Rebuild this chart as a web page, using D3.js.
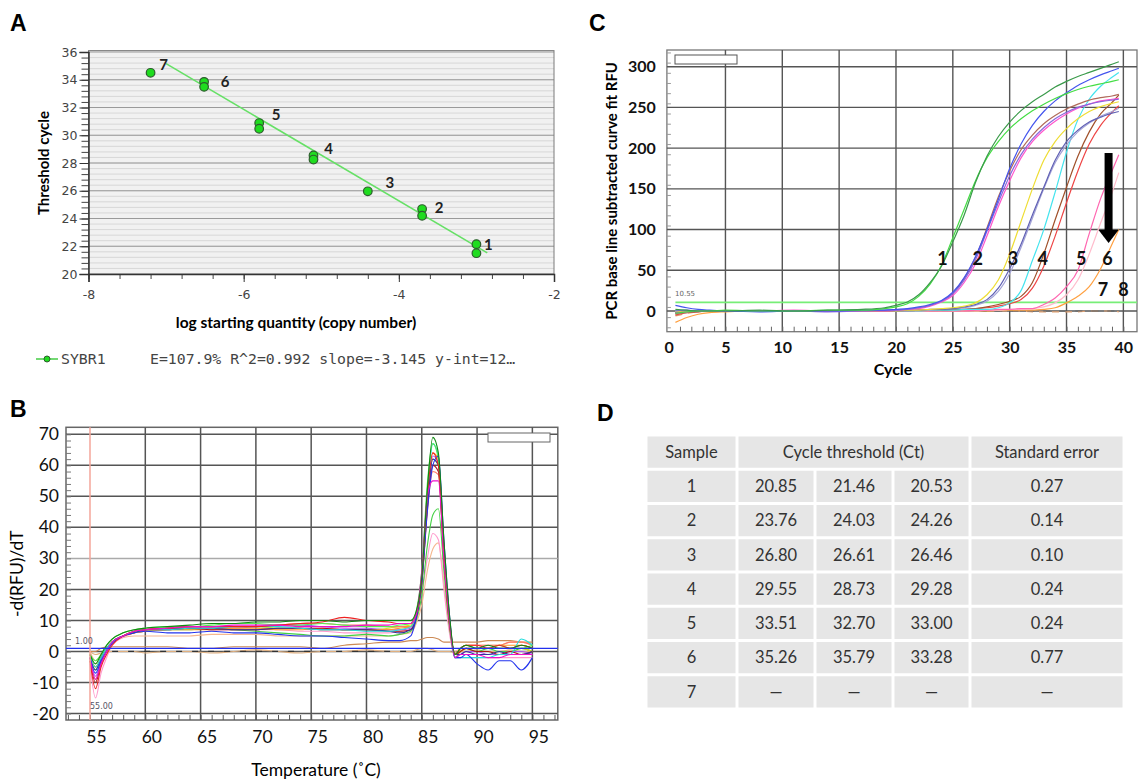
<!DOCTYPE html>
<html>
<head>
<meta charset="utf-8">
<script src="https://cdn.jsdelivr.net/npm/d3@7"></script>
<style>
body{margin:0;background:#fff}
svg{display:block}
</style>
</head>
<body>
<div id="fig"></div>
<script>
// ---------- A : standard curve ----------
var stdLog = [-3.0,-3.0,-3.7,-3.7,-4.4,-5.1,-5.1,-5.8,-5.8,-6.51,-6.51,-7.2];
var stdCt  = [22.15,21.5,24.68,24.2,25.96,28.54,28.25,30.88,30.47,33.85,33.49,34.5];
var stdSample = ["1","1","2","2","3","4","4","5","5","6","6","7"];
var fitLog = [-7.0,-2.86];
var fitCt  = [35.16,21.52];
var aXTicks = [-8,-6,-4,-2];
var aYTicks = [20,22,24,26,28,30,32,34,36];
var aLegend = "E=107.9% R^2=0.992 slope=-3.145 y-int=12\u2026";

// ---------- B : melt curves ----------
var meltT = [55,55.5,56,56.5,57,58,59,60,62,64,66,68,70,72,74,76,78,80,82,83,84,84.5,85,85.5,86,86.5,87,87.5,88,88.5,89,90,91,92,93,94,95];
var meltDkGreen = [-1,-4,-1,2,4,6,7,7.5,8,8.5,9,9,9.5,9.5,10,10,9.5,10,10,10,10,13,24,52,69,64,36,12,-1,1,2,1,2,1,1,2,1];
var meltGreen   = [-2,-6,-2,1,3,5,6,6.5,7,7,7.5,7,6.5,6,5.5,5,5,5.5,5,5.5,6.5,10,18,34,44,46,26,8,-2,0,1,0,1,0,0,1,0];
var meltLime    = [-1,-3,-1,2,4,6,7,7.5,8,8,8.5,9,9,8.5,8.5,9,8.5,8,8,8.5,9,13,26,54,67,62,33,10,-1,1,2,1,1,2,1,1,2];
var meltBlue    = [-2,-7,-3,0,2.5,5,6,6.5,6,6,6.5,6,6,5.5,5,5,4.5,4,3.5,3.5,5,11,22,45,60,63,36,12,-2,-2,-1,-4,-6,-3,-3,-6,-2];
var meltNavy    = [-2,-6,-2,1,3,5,6,7,7,7.5,7.5,7,7,7.5,7.5,7,7,7,6.5,6,7,11,24,48,62,60,32,10,-1,-1,0,-1,-1,0,-1,-1,0];
var meltCyan    = [-1,-5,-2,1,3,5,6.5,7,7,7.5,7.5,8,8,8,7.5,7,7,6.5,6.5,7,8,12,25,50,67,63,34,11,-2,-2,-2,-2,-2,-1,-1,4,2];
var meltRed     = [-3,-12,-5,-1,2,5,6.5,7,7.5,8,8,8,8,8.5,9,9.5,11,10,9.5,9,9,12,24,50,64,60,32,10,-1,1,2,2,1,2,1,2,1];
var meltDkRed   = [-3,-10,-4,0,3,5,6.5,7,7.5,7.5,7,7,7,7.5,7.5,7.5,7,7,6.5,6.5,7,11,22,46,60,58,30,9,-1,0,1,0,0,-1,0,-1,0];
var meltMagenta = [-2,-9,-4,0,3,5,6.5,7,7.5,8,8,8.5,8.5,8.5,8,8,8,8.5,8.5,9,9,12,26,50,55,55,30,10,-2,-1,-1,-1,-2,-2,-1,-1,-1];
var meltPink    = [-4,-15,-7,-2,2,4.5,6,7,7.5,7.5,7,7,7,7,6.5,6.5,6,6,6,6.5,7,10,18,30,38,36,20,6,-2,-2,-2,-2,-2,-2,-2,-2,-2];
var meltOrange  = [-1,-5,-2,1,3,5,6,6.5,7,7,7,7.5,7.5,7,7,7.5,7,7,7,7.5,8,12,25,50,64,62,34,11,-1,0,1,1,1,2,2,2,1];
var meltPeach   = [0,-3,-1,1,3,4.5,5,5,5,5,5.5,5.5,5.5,5,5,5,5,5,5,5.5,6,9,15,26,33,35,22,7,0,1,2,2,2,2,3,3,2];
var meltYellow  = [-1,-5,-2,1,3,5,6,7,7.5,8,8,8,8,7.5,7.5,7,7,7,7.5,8,8.5,12,24,48,62,60,32,10,-1,0,1,1,1,1,1,1,0];
var meltViolet  = [-2,-8,-3,0,3,5,6,7,7.5,8,8,8,8,8.5,8.5,8,7.5,7.5,7,7,7.5,11,23,47,63,61,33,10,-2,-1,0,0,-1,-1,0,0,-1];
var meltSalmon  = [-2,-9,-3,1,3,5,6,6.5,7,7.5,7.5,7.5,8,8.5,9,9,8.5,8.5,8,8,8,11,22,45,58,57,30,9,-1,1,2,2,2,2,3,3,2];
var meltCtl1    = [0,0,1,1.5,1.5,1.5,1.5,1.5,1.5,1,1,1.5,1.5,1.5,1.5,1,2,2.5,3,3,3.5,3.5,4,4.5,4.5,4,3,3,3,3,3,3,3.5,3.5,3.5,3,3];
var meltCtl2    = [0,-1,-0.5,0,0,0,0,-0.5,0,0,-0.5,0,0.5,0,-0.5,0,0,0.5,0,0,0,0.5,1,1,0.5,0,0,0,-0.5,0,0,0.5,0,0,0.5,0,0];
var bXTicks = [55,60,65,70,75,80,85,90,95];
var bYTicks = [-20,-10,0,10,20,30,40,50,60,70];

// ---------- C : amplification curves ----------
var cyc = [0.6,1.6,2.6,3.6,5,8,11,14,17,19,20,21,22,23,24,25,26,27,28,29,30,31,32,33,34,35,36,37,38,39,39.6];
var ampDkGreen = [2,1,0,0,0,1,0,1,2,4,7,11,20,35,55,85,118,158,190,214,232,246,257,266,275,282,288,293,298,303,306];
var ampLtGreen = [-3,-1,0,0,1,0,0,1,1,3,5,9,18,33,56,90,125,160,188,208,224,236,246,254,261,267,272,276,279,282,284];
var ampBlue    = [7,4,2,1,0,-1,0,0,1,1,2,3,5,8,13,23,41,67,100,137,175,205,228,245,258,268,277,284,290,295,298];
var ampViolet  = [0,1,0,0,0,0,0,-1,0,1,1,2,4,7,12,21,38,63,98,133,166,192,211,225,236,244,250,254,257,259,260];
var ampPink    = [-3,-1,0,0,0,0,1,0,0,0,1,2,3,6,11,19,35,58,92,128,160,188,208,222,233,242,249,254,258,260,261];
var ampSienna  = [-4,-2,-1,0,0,0,0,0,0,0,1,2,4,7,12,22,40,66,102,140,172,198,216,230,240,248,254,259,262,264,266];
var ampYellow  = [-1,0,0,0,0,0,0,0,0,0,0,1,1,2,3,4,6,10,20,38,70,110,150,185,208,224,236,245,251,255,257];
var ampSlate   = [-2,-1,0,0,0,0,0,0,0,0,0,1,1,2,2,3,5,8,14,28,52,82,118,152,185,208,222,232,238,243,245];
var ampLavender= [-1,0,0,0,0,0,0,0,0,0,0,0,1,1,2,3,4,7,12,24,46,78,114,150,182,204,220,231,239,245,249];
var ampCyan    = [0,0,0,0,0,0,0,0,0,0,0,0,0,1,1,1,2,2,2,4,10,25,62,100,146,195,235,260,276,287,293];
var ampBrown   = [-2,-1,0,0,0,0,0,0,0,0,0,0,1,1,1,2,2,3,5,8,12,18,35,70,112,152,190,220,242,256,265];
var ampRed     = [-5,-2,-1,0,0,0,0,0,0,0,0,0,1,1,1,2,2,3,4,6,9,14,28,55,92,133,172,205,228,244,252];
var ampPink2   = [-2,-1,0,0,0,0,0,0,0,0,0,0,0,0,0,0,0,1,1,2,2,3,3,8,16,30,50,95,138,172,192];
var ampLtPink  = [-1,0,0,0,0,0,0,0,0,0,0,0,0,0,0,0,0,0,1,1,2,2,3,5,10,20,38,70,108,145,170];
var ampOrange  = [-14,-8,-4,-2,-1,0,0,0,0,0,0,0,0,0,0,0,0,0,0,1,1,1,1,2,4,10,18,30,52,82,100];
var ampNeg1    = [-3,-1,0,0,0,0,0,0,0,0,0,0,0,0,0,0,0,0,0,0,0,0,0,0,0,0,0,0,0,0,0];
var ampNeg2    = [-6,-3,-1,0,0,0,0,0,0,0,0,0,0,0,0,0,0,0,0,0,0,0,-1,-1,-1,-1,-1,0,0,0,-1];
var cXTicks = [0,5,10,15,20,25,30,35,40];
var cYTicks = [0,50,100,150,200,250,300];
var threshold = 10.55;
var cLabels = ["1","2","3","4","5","6","7","8"];
var cLabelCycle = [24.1,27.2,30.3,32.9,36.3,38.6,38.2,40.0];
var cLabelRFU   = [64,64,64,64,64,64,26,26];

// ---------- D : table ----------
var tblSample = ["1","2","3","4","5","6","7"];
var ctRep1 = [20.85,23.76,26.80,29.55,33.51,35.26,null];
var ctRep2 = [21.46,24.03,26.61,28.73,32.70,35.79,null];
var ctRep3 = [20.53,24.26,26.46,29.28,33.00,33.28,null];
var stdErr = [0.27,0.14,0.10,0.24,0.24,0.77,null];

var plain = function(d){ return String(d); };

var svg = d3.select("#fig").append("svg")
    .attr("width", 1139)
    .attr("height", 783);

// panel letters
svg.selectAll(".plab")
  .data([["A",10,31],["B",10,417],["C",589,31],["D",597,421]])
  .enter().append("text")
    .attr("x", function(d){return d[1]})
    .attr("y", function(d){return d[2]})
    .attr("font-family", "Liberation Sans, Arial")
    .attr("font-weight", "bold")
    .attr("font-size", "23px")
    .text(function(d){return d[0]});

// ================= A =================
var ax = d3.scaleLinear().domain([-8,-2]).range([88.5,554]);
var ay = d3.scaleLinear().domain([20,36]).range([274,52]);
var A = svg.append("g");

A.append("rect")
  .attr("x", ax(-8)).attr("y", ay(36.1))
  .attr("width", ax(-2)-ax(-8)).attr("height", ay(20)-ay(36.1))
  .attr("fill", "#f1f1f1");

A.selectAll(".aminor")
  .data(d3.range(20.4, 36, 0.4))
  .enter().append("line")
    .attr("x1", ax(-8)).attr("x2", ax(-2))
    .attr("y1", function(d){return ay(d)}).attr("y2", function(d){return ay(d)})
    .attr("stroke", "#d0d0d0").attr("stroke-width", 0.8);

A.selectAll(".amajor")
  .data(aYTicks.slice(1))
  .enter().append("line")
    .attr("x1", ax(-8)).attr("x2", ax(-2))
    .attr("y1", function(d){return ay(d)}).attr("y2", function(d){return ay(d)})
    .attr("stroke", "#9a9a9a").attr("stroke-width", 1);

A.append("rect")
  .attr("x", ax(-8)).attr("y", ay(36.1))
  .attr("width", ax(-2)-ax(-8)).attr("height", ay(20)-ay(36.1))
  .attr("fill", "none").attr("stroke", "#7a7a7a");

// minor ticks
A.append("g").attr("transform", "translate(" + ax(-8) + ",0)")
  .call(d3.axisLeft(ay).tickValues(d3.range(20, 36.01, 0.4)).tickSize(7).tickFormat(""))
  .call(function(g){ g.select(".domain").remove(); g.selectAll("line").attr("stroke","#444"); });
A.append("g").attr("transform", "translate(0," + ay(20) + ")")
  .call(d3.axisBottom(ax).tickValues(d3.range(-8, -1.99, 0.4)).tickSize(5).tickFormat(""))
  .call(function(g){ g.select(".domain").remove(); g.selectAll("line").attr("stroke","#444"); });

var aYAxis = A.append("g").attr("transform", "translate(" + ax(-8) + ",0)")
  .call(d3.axisLeft(ay).tickValues(aYTicks).tickSize(9).tickPadding(2).tickFormat(plain));
var aXAxis = A.append("g").attr("transform", "translate(0," + ay(20) + ")")
  .call(d3.axisBottom(ax).tickValues(aXTicks).tickSize(8).tickPadding(8).tickFormat(plain));
[aYAxis, aXAxis].forEach(function(g){
  g.select(".domain").attr("stroke", "#333").attr("stroke-width", 1.5);
  g.selectAll("line").attr("stroke", "#333");
  g.selectAll("text").attr("font-family", "DejaVu Sans, Verdana").attr("font-size", "12.5px").attr("fill", "#444");
});

A.append("line")
  .attr("x1", ax(fitLog[0])).attr("y1", ay(fitCt[0]))
  .attr("x2", ax(fitLog[1])).attr("y2", ay(fitCt[1]))
  .attr("stroke", "#66e066").attr("stroke-width", 1.6);

A.selectAll(".apt")
  .data(stdLog)
  .enter().append("circle")
    .attr("cx", function(d){return ax(d)})
    .attr("cy", function(d,i){return ay(stdCt[i])})
    .attr("r", 4.3)
    .attr("fill", "#1fdc1f")
    .attr("stroke", "#2d5e2d").attr("stroke-width", 1.2);

// sample numbers next to the top point of each group
var aLabOff = {"1":[12,-8],"2":[17,-1],"3":[22,-9],"4":[15,-7],"5":[17,-8],"6":[21,0],"7":[13,-8]};
var aTop = {};
stdSample.forEach(function(s,i){ if(!aTop[s] || stdCt[i] > stdCt[aTop[s]]) aTop[s] = i; });
A.selectAll(".alab")
  .data(Object.keys(aTop))
  .enter().append("text")
    .attr("x", function(d){return ax(stdLog[aTop[d]]) + aLabOff[d][0]})
    .attr("y", function(d){return ay(stdCt[aTop[d]]) + aLabOff[d][1]})
    .attr("dy", "0.35em")
    .attr("text-anchor", "middle")
    .attr("font-family", "Lato, Liberation Sans")
    .attr("font-weight", "bold")
    .attr("font-size", "15px")
    .attr("fill", "#222")
    .text(function(d){return d});

A.append("text")
  .attr("transform", "translate(44," + ((ay(20)+ay(36))/2) + ") rotate(-90)")
  .attr("text-anchor", "middle").attr("dy", "0.35em")
  .attr("font-family", "Lato, Liberation Sans").attr("font-weight", "bold").attr("font-size", "15px")
  .text("Threshold cycle");
A.append("text")
  .attr("x", 296).attr("y", 323).attr("dy", "0.35em")
  .attr("text-anchor", "middle")
  .attr("font-family", "Lato, Liberation Sans").attr("font-weight", "bold").attr("font-size", "15.5px")
  .text("log starting quantity (copy number)");

// legend
A.append("line").attr("x1", 36).attr("x2", 58).attr("y1", 359).attr("y2", 359)
  .attr("stroke", "#44cc44").attr("stroke-width", 1.5);
A.append("circle").attr("cx", 47).attr("cy", 359).attr("r", 3)
  .attr("fill", "#1fdc1f").attr("stroke", "#2d5e2d");
A.append("text").attr("x", 61).attr("y", 359).attr("dy", "0.35em")
  .attr("font-family", "DejaVu Sans Mono, Liberation Mono").attr("font-size", "14.8px").attr("fill", "#444")
  .text("SYBR1");
A.append("text").attr("x", 150).attr("y", 359).attr("dy", "0.35em")
  .attr("font-family", "DejaVu Sans Mono, Liberation Mono").attr("font-size", "14.8px").attr("fill", "#444")
  .text(aLegend);

// ================= B =================
var bx = d3.scaleLinear().domain([52.83, 97.3]).range([66, 557.8]);
var by = d3.scaleLinear().domain([-22.1, 72.26]).range([720, 427.3]);
var B = svg.append("g");

B.append("rect").attr("x", bx(52.83)).attr("y", by(72.26))
  .attr("width", bx(97.3)-bx(52.83)).attr("height", by(-22.1)-by(72.26))
  .attr("fill", "#fff").attr("stroke", "#666").attr("stroke-width", 1.5);

B.selectAll(".bgy")
  .data(bYTicks)
  .enter().append("line")
    .attr("x1", bx(52.83)).attr("x2", bx(97.3))
    .attr("y1", function(d){return by(d)}).attr("y2", function(d){return by(d)})
    .attr("stroke", function(d){return d==30 ? "#aaa" : "#555"})
    .attr("stroke-width", 1.5);
B.selectAll(".bgx")
  .data(bXTicks.slice(1))
  .enter().append("line")
    .attr("y1", by(-22.1)).attr("y2", by(72.26))
    .attr("x1", function(d){return bx(d)}).attr("x2", function(d){return bx(d)})
    .attr("stroke", "#555").attr("stroke-width", 1.5);

B.append("g").attr("transform", "translate(" + bx(52.83) + ",0)")
  .call(d3.axisRight(by).tickValues(d3.range(-20, 71, 2)).tickSize(5).tickFormat(""))
  .call(function(g){ g.select(".domain").remove(); g.selectAll("line").attr("stroke","#777"); });
B.append("g").attr("transform", "translate(0," + by(-22.1) + ")")
  .call(d3.axisTop(bx).tickValues(d3.range(53, 97.1, 1)).tickSize(5).tickFormat(""))
  .call(function(g){ g.select(".domain").remove(); g.selectAll("line").attr("stroke","#555"); });

var bYAxis = B.append("g").attr("transform", "translate(" + bx(52.83) + ",0)")
  .call(d3.axisLeft(by).tickValues(bYTicks).tickSize(0).tickPadding(7).tickFormat(plain));
var bXAxis = B.append("g").attr("transform", "translate(0," + by(-22.1) + ")")
  .call(d3.axisBottom(bx).tickValues(bXTicks).tickSize(0).tickPadding(11).tickFormat(plain));
[bYAxis, bXAxis].forEach(function(g){
  g.select(".domain").remove();
  g.selectAll("text").attr("font-family", "Lato, Liberation Sans").attr("font-size", "17.5px").attr("fill", "#111");
});
bXAxis.selectAll("text").attr("x", 6);

var bLine = d3.line()
  .x(function(d,i){return bx(meltT[i])})
  .y(function(d){return by(d)})
  .curve(d3.curveMonotoneX);

var meltSeries = [
  [meltCtl2, "#e0b080"], [meltCtl1, "#cc8a55"],
  [meltPeach, "#f5b890"], [meltPink, "#ff99cc"], [meltGreen, "#44d044"],
  [meltYellow, "#e0dc22"], [meltSalmon, "#ff7766"], [meltViolet, "#aa55ee"],
  [meltOrange, "#ff9922"], [meltDkRed, "#aa1515"], [meltNavy, "#333399"],
  [meltCyan, "#22dddd"], [meltLime, "#55ee55"], [meltBlue, "#2233ee"],
  [meltRed, "#ee2222"], [meltMagenta, "#ee11cc"], [meltDkGreen, "#118811"]
];
B.append("g").selectAll("path")
  .data(meltSeries)
  .enter().append("path")
    .attr("d", function(d){return bLine(d[0])})
    .attr("fill", "none")
    .attr("stroke", function(d){return d[1]})
    .attr("stroke-width", 1.1);

// dashed baseline trace
B.append("line").attr("x1", bx(57)).attr("x2", bx(85)).attr("y1", by(0)).attr("y2", by(0))
  .attr("stroke", "#333").attr("stroke-dasharray", "6,10").attr("stroke-width", 1.2);

// threshold + start marker
B.append("line").attr("x1", bx(52.83)).attr("x2", bx(97.3)).attr("y1", by(1)).attr("y2", by(1))
  .attr("stroke", "#2230ee").attr("stroke-width", 1.3);
B.append("line").attr("x1", bx(55)).attr("x2", bx(55)).attr("y1", by(-22.1)).attr("y2", by(72.26))
  .attr("stroke", "#f4a59a").attr("stroke-width", 1.5);
B.append("text").attr("x", 75).attr("y", by(1)-4)
  .attr("font-family", "DejaVu Sans").attr("font-size", "8px").attr("fill", "#556")
  .text("1.00");
B.append("text").attr("x", 90).attr("y", 709)
  .attr("font-family", "DejaVu Sans").attr("font-size", "8px").attr("fill", "#556")
  .text("55.00");
B.append("rect").attr("x", 488).attr("y", 433).attr("width", 62).attr("height", 9)
  .attr("fill", "#fff").attr("stroke", "#666");

B.append("text")
  .attr("transform", "translate(17," + ((by(-22.1)+by(72.26))/2) + ") rotate(-90)")
  .attr("text-anchor", "middle").attr("dy", "0.35em")
  .attr("font-family", "Lato, Liberation Sans").attr("font-size", "17.5px")
  .text("-d(RFU)/dT");
B.append("text")
  .attr("x", 316).attr("y", 770).attr("dy", "0.35em")
  .attr("text-anchor", "middle")
  .attr("font-family", "Lato, Liberation Sans").attr("font-size", "17.5px")
  .text("Temperature (\u02daC)");

// ================= C =================
var cx = d3.scaleLinear().domain([-0.15, 41.2]).range([666.9, 1137]);
var cy = d3.scaleLinear().domain([-25.4, 320.5]).range([331.7, 50]);
var C = svg.append("g");

C.append("rect").attr("x", cx(-0.15)).attr("y", cy(320.5))
  .attr("width", cx(41.2)-cx(-0.15)).attr("height", cy(-25.4)-cy(320.5))
  .attr("fill", "#fff").attr("stroke", "#777").attr("stroke-width", 1.3);

C.selectAll(".cgy")
  .data(cYTicks)
  .enter().append("line")
    .attr("x1", cx(-0.15)).attr("x2", cx(41.2))
    .attr("y1", function(d){return cy(d)}).attr("y2", function(d){return cy(d)})
    .attr("stroke", "#555").attr("stroke-width", 1.4);
C.selectAll(".cgx")
  .data(cXTicks.slice(1))
  .enter().append("line")
    .attr("y1", cy(-25.4)).attr("y2", cy(320.5))
    .attr("x1", function(d){return cx(d)}).attr("x2", function(d){return cx(d)})
    .attr("stroke", "#555").attr("stroke-width", 1.4);

C.append("g").attr("transform", "translate(" + cx(-0.15) + ",0)")
  .call(d3.axisRight(cy).tickValues(d3.range(-20, 320, 12.5)).tickSize(4).tickFormat(""))
  .call(function(g){ g.select(".domain").remove(); g.selectAll("line").attr("stroke","#999"); });
C.append("g").attr("transform", "translate(0," + cy(-25.4) + ")")
  .call(d3.axisTop(cx).tickValues(d3.range(1, 41, 1)).tickSize(5).tickFormat(""))
  .call(function(g){ g.select(".domain").remove(); g.selectAll("line").attr("stroke","#666"); });

var cYAxis = C.append("g").attr("transform", "translate(" + cx(-0.15) + ",0)")
  .call(d3.axisLeft(cy).tickValues(cYTicks).tickSize(0).tickPadding(11).tickFormat(plain));
var cXAxis = C.append("g").attr("transform", "translate(0," + cy(-25.4) + ")")
  .call(d3.axisBottom(cx).tickValues(cXTicks).tickSize(0).tickPadding(10).tickFormat(plain));
[cYAxis, cXAxis].forEach(function(g){
  g.select(".domain").remove();
  g.selectAll("text").attr("font-family", "Lato, Liberation Sans").attr("font-weight", "bold")
    .attr("font-size", "16px").attr("fill", "#111");
});

C.append("rect").attr("x", 675).attr("y", 55).attr("width", 62).attr("height", 9)
  .attr("fill", "#fff").attr("stroke", "#555");

C.append("line").attr("x1", cx(0.6)).attr("x2", cx(41.2)).attr("y1", cy(threshold)).attr("y2", cy(threshold))
  .attr("stroke", "#77ee77").attr("stroke-width", 1.6);
C.append("text").attr("x", 675).attr("y", cy(threshold)-6)
  .attr("font-family", "DejaVu Sans").attr("font-size", "7px").attr("fill", "#666")
  .text(threshold.toFixed(2));

var cLine = d3.line()
  .x(function(d,i){return cx(cyc[i])})
  .y(function(d){return cy(d)})
  .curve(d3.curveMonotoneX);

var ampSeries = [
  [ampNeg2, "#e0a070", "7,6"], [ampNeg1, "#666", "7,9"],
  [ampOrange, "#ffa040"], [ampLtPink, "#ffbccc"], [ampPink2, "#ff66b0"],
  [ampRed, "#ee4444"], [ampBrown, "#a0502a"], [ampCyan, "#44e4ee"],
  [ampLavender, "#a4a4d8"], [ampSlate, "#6060b4"], [ampYellow, "#eedd33"],
  [ampSienna, "#b06a5a"], [ampPink, "#ff55cc"], [ampViolet, "#8a66dd"],
  [ampBlue, "#4455ee"], [ampLtGreen, "#44dd44"], [ampDkGreen, "#3a9a4a"]
];
C.append("g").selectAll("path")
  .data(ampSeries)
  .enter().append("path")
    .attr("d", function(d){return cLine(d[0])})
    .attr("fill", "none")
    .attr("stroke", function(d){return d[1]})
    .attr("stroke-dasharray", function(d){return d[2] || null})
    .attr("stroke-width", 1.2);

C.selectAll(".clab")
  .data(cLabels)
  .enter().append("text")
    .attr("x", function(d,i){return cx(cLabelCycle[i])})
    .attr("y", function(d,i){return cy(cLabelRFU[i])})
    .attr("dy", "0.36em")
    .attr("text-anchor", "middle")
    .attr("font-family", "Lato, Liberation Sans").attr("font-weight", "bold").attr("font-size", "18px")
    .attr("fill", "#111")
    .text(function(d){return d});

// arrow pointing down at sample 6
var arX = cx(38.7), arTop = cy(194), arTip = cy(83.5);
C.append("rect").attr("x", arX-4).attr("y", arTop).attr("width", 8).attr("height", arTip-arTop-12)
  .attr("fill", "#000");
C.append("path")
  .attr("d", "M" + (arX-10) + "," + (arTip-13) + "L" + (arX+10) + "," + (arTip-13) + "L" + arX + "," + arTip + "Z")
  .attr("fill", "#000");

C.append("text")
  .attr("transform", "translate(612," + ((cy(-25.4)+cy(320.5))/2) + ") rotate(-90)")
  .attr("text-anchor", "middle").attr("dy", "0.35em")
  .attr("font-family", "Lato, Liberation Sans").attr("font-weight", "bold").attr("font-size", "15px")
  .text("PCR base line subtracted curve fit RFU");
C.append("text")
  .attr("x", 893).attr("y", 369).attr("dy", "0.35em")
  .attr("text-anchor", "middle")
  .attr("font-family", "Lato, Liberation Sans").attr("font-weight", "bold").attr("font-size", "16px")
  .text("Cycle");

// ================= D =================
var colEdge = [646, 737, 815, 893, 970, 1124];
var rowY = d3.scaleBand().domain(d3.range(8)).range([435, 709]);
var D = svg.append("g");
var fmt = function(v){ return v == null ? "\u2014" : v.toFixed(2); };

var tblRows = tblSample.map(function(s,i){
  return [s, fmt(ctRep1[i]), fmt(ctRep2[i]), fmt(ctRep3[i]), fmt(stdErr[i])];
});

function cell(x0, x1, r, txt){
  D.append("rect")
    .attr("x", x0 + 1.5).attr("y", rowY(r) + 1.5)
    .attr("width", x1 - x0 - 3).attr("height", rowY.bandwidth() - 3)
    .attr("fill", "#e6e6e6");
  D.append("text")
    .attr("x", (x0 + x1)/2).attr("y", rowY(r) + rowY.bandwidth()/2)
    .attr("dy", "0.35em").attr("text-anchor", "middle")
    .attr("font-family", "Lato, Liberation Sans").attr("font-size", "16.5px")
    .attr("fill", "#333")
    .text(txt);
}
cell(colEdge[0], colEdge[1], 0, "Sample");
cell(colEdge[1], colEdge[4], 0, "Cycle threshold (Ct)");
cell(colEdge[4], colEdge[5], 0, "Standard error");
tblRows.forEach(function(row, r){
  row.forEach(function(txt, c){
    cell(colEdge[c], colEdge[c+1], r + 1, txt);
  });
});
</script>
</body>
</html>
